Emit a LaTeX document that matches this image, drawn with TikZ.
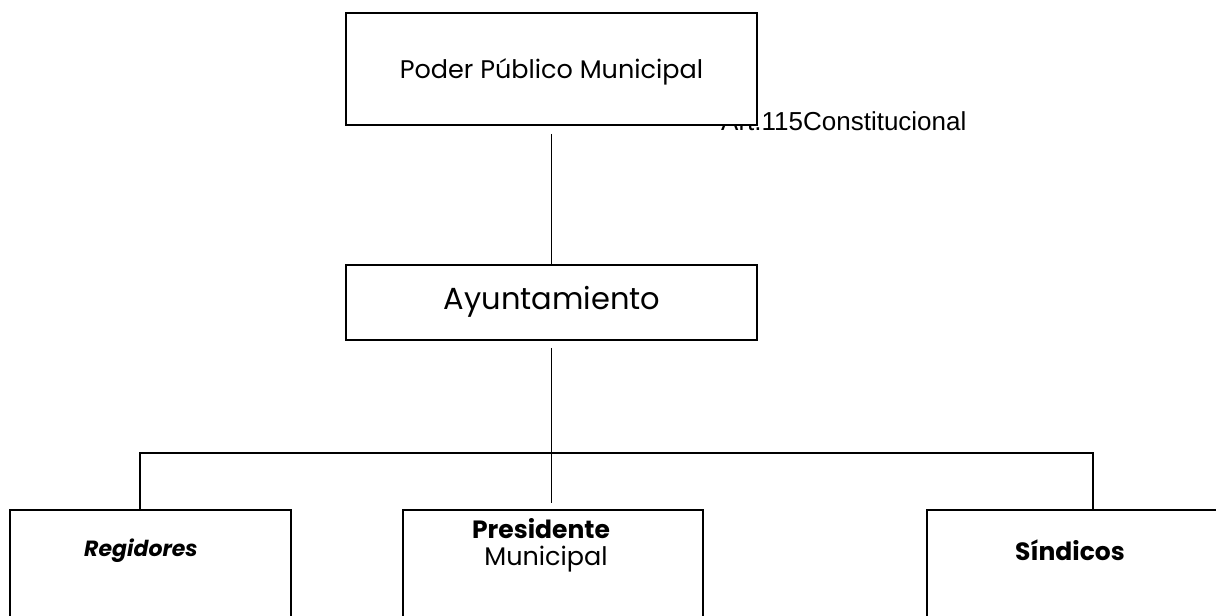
\documentclass[tikz,border=0pt]{standalone}
\usepackage{fontspec}
\setmainfont{Poppins}
\newfontfamily\arialfont{Liberation Sans}
\begin{document}
\begin{tikzpicture}[x=1pt,y=-1pt,
  box/.style={draw=black,line width=1.8pt,fill=white,inner sep=0pt},
  conn/.style={draw=black,line width=1.8pt},
  lbl/.style={inner sep=0pt,anchor=center}]
\useasboundingbox (0,0) rectangle (1216,616);
\clip (0,0) rectangle (1216,616);
% note text (partly hidden by the top box)
\node[lbl,anchor=base west,font=\arialfont\fontsize{26}{30}\selectfont] (art) at (721,130) {Art.115Constitucional};
% boxes
\node[box,minimum width=411pt,minimum height=112pt] (poder) at (551.5,69) {};
\node[box,minimum width=411pt,minimum height=75pt] (ayu) at (551.5,302.5) {};
\node[box,anchor=north west,minimum width=281pt,minimum height=140pt] (reg) at (9,509) {};
\node[box,anchor=north west,minimum width=300pt,minimum height=140pt] (pres) at (402,509) {};
\node[box,anchor=north west,minimum width=300pt,minimum height=140pt] (sin) at (926,509) {};
% texts
\node[lbl,font=\fontsize{25.5}{30}\selectfont] (podert) at (551.5,72) {Poder Público Municipal};
\node[lbl,font=\fontsize{30.5}{36}\selectfont] (ayut) at (552,302) {Ayuntamiento};
\node[lbl,font=\fontsize{22}{26}\selectfont\bfseries\itshape] (regt) at (141,551) {Regidores};
\node[lbl,font=\fontsize{25}{28}\selectfont\bfseries] (prest) at (541,529) {Presidente};
\node[lbl,font=\fontsize{25.5}{30}\selectfont] (presm) at (546,559) {Municipal};
\node[lbl,font=\fontsize{25}{28}\selectfont\bfseries] (sint) at (1070,550) {Síndicos};
% connectors
\coordinate (busL) at (140,453);
\coordinate (busR) at (1093,453);
\coordinate (busM) at (551.5,453);
\draw[conn] ([yshift=-8pt]poder.south) -- (ayu.north);
\draw[conn] ([yshift=-7pt]ayu.south) -- ([yshift=6pt]pres.north -| busM);
\draw[conn] (busL |- reg.north) -- (busL) -- (busR) -- (busR |- sin.north);
\end{tikzpicture}
\end{document}
